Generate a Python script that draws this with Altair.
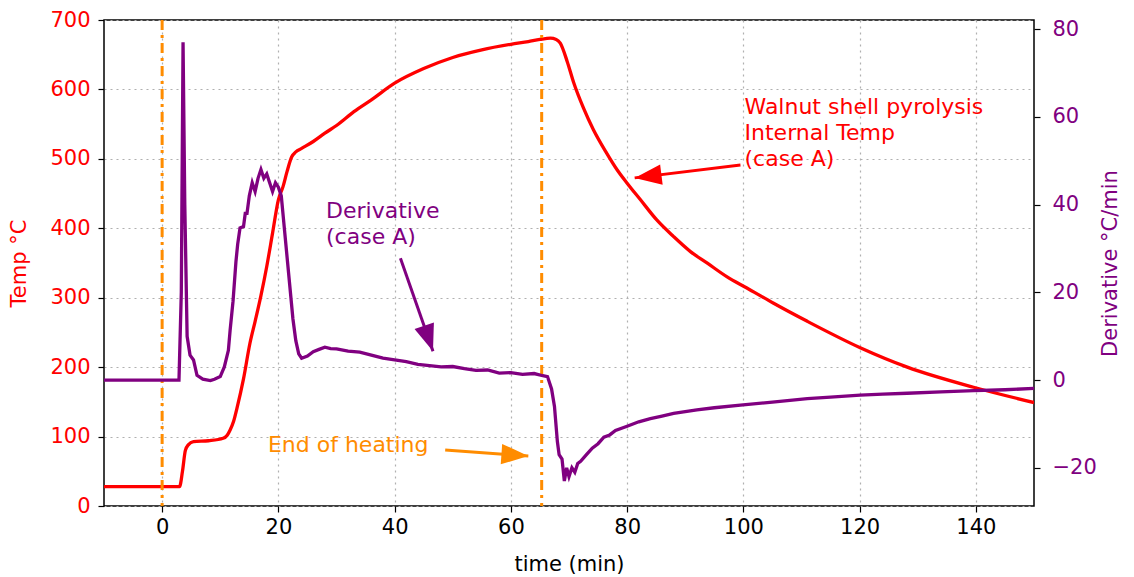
import altair as alt
import pandas as pd

# Internal temperature (left axis, °C)
temp_t = [-10, 3.0, 3.5, 4.0, 4.5, 5.4, 8, 10.5, 11.2, 11.7, 12.3, 12.85, 14, 15.1, 16, 17, 18, 19, 20,
          20.8, 21.5, 22.3, 23, 24, 26, 28, 30, 33, 36, 40, 45, 50, 55, 60, 63, 65, 66.8, 67.8, 68.5,
          69.7, 70.8, 72.5, 74.2, 76.5, 78.3, 80, 82.3, 85.1, 88, 90.9, 93.8, 97.2, 100.6, 105.2, 111,
          120.1, 128.2, 139.6, 150]
temp_v = [28, 28, 50, 80, 88, 92.7, 94, 97.5, 102, 109.5, 122, 140, 183, 234, 266, 303, 345, 393, 441,
          460, 482, 503, 510, 515, 525, 537, 548, 568, 585, 609, 630, 646, 657, 665, 669, 672, 673.8, 672, 666.7,
          640, 610, 573, 542, 508, 484, 465, 441, 412, 388, 366.4, 349.7, 330, 314, 292, 266,
          228, 200, 171, 149]

# Derivative (right axis, °C/min)
der_t = [-10, 2.9, 3.3, 3.6, 3.9, 4.3, 4.8, 5.4, 6, 7, 8.3, 9, 10, 10.7, 11.4, 11.7, 12.2, 12.7, 13, 13.4,
         14, 14.3, 14.6, 15, 15.5, 16, 16.5, 17, 17.5, 18, 18.5, 19, 19.5, 20, 20.5, 21, 21.5, 22, 22.5,
         23, 23.5, 24, 25, 26, 27, 28, 29, 30, 32, 34, 36, 38, 40, 42, 44, 46, 48, 50, 52, 54, 56, 58, 60,
         62, 64, 65.5, 66.3, 67, 67.5, 68, 68.3, 68.8, 69.2, 69.6, 70, 70.5, 71, 71.5, 72, 73, 74, 75, 76,
         77, 78, 80, 82, 84, 86, 88, 90, 92, 95, 99.5, 105, 111, 115, 120.1, 124, 128.2, 134, 139.6, 145, 150]
der_v = [0, 0, 20, 77, 40, 10, 5.7, 4.6, 1.1, 0.2, -0.1, 0.2, 0.8, 3, 6.8, 11.4, 18, 27, 31, 34.7,
         35, 38, 38, 42, 45, 43, 46, 48, 46, 47, 45, 43, 45, 44, 42, 35, 28, 21, 14,
         9, 6, 5, 5.5, 6.5, 7, 7.5, 7.2, 7.1, 6.6, 6.4, 5.7, 5.0, 4.6, 4.2, 3.6, 3.3, 3.0, 3.1, 2.6, 2.2, 2.3, 1.6, 1.7,
         1.3, 1.5, 1.0, 0.8, -2, -6, -14, -17, -18, -23, -20, -22, -20, -21, -19, -18.5, -17, -15.5, -14.5, -13,
         -12.5, -11.5, -10.5, -9.5, -8.8, -8.2, -7.6, -7.2, -6.8, -6.3, -5.7, -5.0, -4.2, -3.9, -3.4, -3.2, -3.0, -2.7, -2.4, -2.2, -1.9]

heat_marks = [0, 65.3]

# annotations (in time / temperature units)
ann_text = ["Walnut shell pyrolysis", "Internal Temp", "(case A)", "Derivative", "(case A)", "End of heating"]
ann_x = [100.2, 100.2, 100.2, 28.2, 28.2, 18.2]
ann_y = [575, 537, 500, 425, 388, 88]
ann_col = ["red", "red", "red", "purple", "purple", "darkorange"]

arr_x = [99.5, 41.0, 48.7]
arr_y = [491, 357, 80.7]
arr_x2 = [81.3, 46.6, 63.0]
arr_y2 = [472.6, 223, 72]
arr_angle = [263, 161, 94]
arr_col = ["red", "purple", "darkorange"]

FONT = "DejaVu Sans"
FS = 21
AFS = 22

temp_df = pd.DataFrame({"t": temp_t, "y": temp_v})
der_df = pd.DataFrame({"t": der_t, "d": der_v})
vl_df = pd.DataFrame({"t": heat_marks})
txt_df = pd.DataFrame({"t": ann_x, "y": ann_y, "label": ann_text, "c": ann_col})
arr_df = pd.DataFrame({"t": arr_x, "y": arr_y, "t2": arr_x2, "y2": arr_y2, "ang": arr_angle, "c": arr_col})

xscale = alt.Scale(domain=[-10, 150], nice=False, zero=False)
xaxis = alt.Axis(title="time (min)", values=list(range(0, 160, 20)), grid=True, gridDash=[2, 4],
                 gridColor="#b0b0b0", gridWidth=1.2, tickColor="black", tickSize=6, tickWidth=1.2,
                 labelColor="black", titleColor="black", labelFontSize=FS, titleFontSize=FS,
                 labelFont=FONT, titleFont=FONT, titleFontWeight="normal", domain=False,
                 labelPadding=4, titlePadding=16)
yscale = alt.Scale(domain=[0, 700], nice=False)
yaxis = alt.Axis(title="Temp °C", values=list(range(0, 800, 100)), grid=True, gridDash=[2, 4],
                 gridColor="#b0b0b0", gridWidth=1.2, tickColor="black", tickSize=6, tickWidth=1.2,
                 labelColor="red", titleColor="red", labelFontSize=FS, titleFontSize=FS,
                 labelFont=FONT, titleFont=FONT, titleFontWeight="normal", domain=False,
                 labelPadding=8, titlePadding=20)

X = alt.X("t:Q", scale=xscale, axis=xaxis)
Y = alt.Y("y:Q", scale=yscale, axis=yaxis)

temp_line = alt.Chart(temp_df).mark_line(color="red", strokeWidth=3.3, clip=True,
                                         interpolate="monotone").encode(x=X, y=Y)

vlines = alt.Chart(vl_df).mark_rule(color="darkorange", strokeWidth=3, strokeDash=[10, 5, 3, 5]).encode(x="t:Q")

texts = alt.Chart(txt_df).mark_text(align="left", baseline="middle", font=FONT, fontSize=AFS).encode(
    x="t:Q", y="y:Q", text="label:N", color=alt.Color("c:N", scale=None))

shafts = alt.Chart(arr_df).mark_rule(strokeWidth=3).encode(
    x="t:Q", y="y:Q", x2="t2:Q", y2="y2:Q", color=alt.Color("c:N", scale=None))
heads = alt.Chart(arr_df).mark_point(shape="M0,0L0.38,1L-0.38,1Z", size=2900, filled=True, opacity=1).encode(
    x="t2:Q", y="y2:Q", angle=alt.Angle("ang:Q", scale=None), color=alt.Color("c:N", scale=None))

left = alt.layer(temp_line, vlines, texts, shafts, heads)

der_line = alt.Chart(der_df).mark_line(color="purple", strokeWidth=3.3, clip=True).encode(
    x=alt.X("t:Q", scale=xscale),
    y=alt.Y("d:Q", scale=alt.Scale(domain=[-28.7, 82.1], nice=False, zero=False),
            axis=alt.Axis(title="Derivative °C/min", orient="right", values=[-20, 0, 20, 40, 60, 80],
                          grid=False, tickColor="black", tickSize=6, tickWidth=1.2,
                          labelColor="purple", titleColor="purple", labelFontSize=FS, titleFontSize=FS,
                          labelFont=FONT, titleFont=FONT, titleFontWeight="normal", domain=False,
                          labelPadding=12, titlePadding=24, titleAngle=270, titleBaseline="bottom")))

chart = alt.layer(left, der_line).resolve_scale(y="independent").properties(
    width=930, height=486,
    autosize=alt.AutoSizeParams(type="none"),
    padding={"left": 96, "top": 12, "right": 92, "bottom": 70},
).configure_view(stroke="black", strokeWidth=1.5)

chart.save("out.html", embed_options={"renderer": "svg", "actions": False})
